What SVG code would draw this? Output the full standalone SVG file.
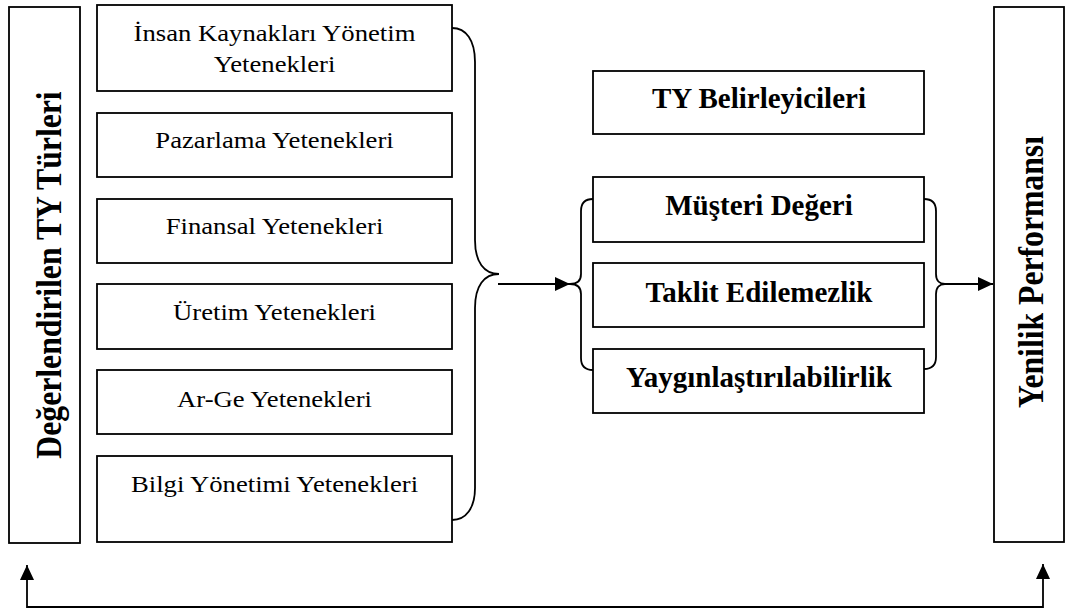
<svg xmlns="http://www.w3.org/2000/svg" width="1066" height="612" viewBox="0 0 1066 612">
<style>
rect.box{fill:#fff;stroke:#000;stroke-width:1.8}
.reg{font-family:"Liberation Serif","Times New Roman",serif;font-size:23px;fill:#000;text-anchor:middle}
.bold{font-family:"Liberation Serif","Times New Roman",serif;font-size:29px;font-weight:bold;fill:#000;text-anchor:middle}
.vert{font-family:"Liberation Serif","Times New Roman",serif;font-size:31.7px;font-weight:bold;fill:#000;text-anchor:middle}
.conn{fill:none;stroke:#000;stroke-width:1.8}
</style>
<defs>
<marker id="arr" markerUnits="userSpaceOnUse" markerWidth="16" markerHeight="16" refX="15" refY="7" orient="auto-start-reverse">
<path d="M0,0 L15,7 L0,14 z" fill="#000"/>
</marker>
</defs>
<g id="node-turleri">
<rect class="box" x="9" y="7" width="71" height="536"/>
<text class="vert" transform="translate(61,275) scale(1.16,1) rotate(-90)">Değerlendirilen TY Türleri</text>
</g>
<g id="node-ik">
<rect class="box" x="97" y="5" width="355" height="86"/>
<text class="reg" transform="translate(274.5,41) scale(1.16,1)">İnsan Kaynakları Yönetim</text>
<text class="reg" transform="translate(274.5,72) scale(1.16,1)">Yetenekleri</text>
</g>
<g id="node-pazarlama">
<rect class="box" x="97" y="113" width="355" height="64"/>
<text class="reg" transform="translate(274.5,148) scale(1.16,1)">Pazarlama Yetenekleri</text>
</g>
<g id="node-finansal">
<rect class="box" x="97" y="199" width="355" height="64"/>
<text class="reg" transform="translate(274.5,234) scale(1.16,1)">Finansal Yetenekleri</text>
</g>
<g id="node-uretim">
<rect class="box" x="97" y="284" width="355" height="65"/>
<text class="reg" transform="translate(274.5,320) scale(1.16,1)">Üretim Yetenekleri</text>
</g>
<g id="node-arge">
<rect class="box" x="97" y="370" width="355" height="64"/>
<text class="reg" transform="translate(274.5,407) scale(1.16,1)">Ar-Ge Yetenekleri</text>
</g>
<g id="node-bilgi">
<rect class="box" x="97" y="456" width="355" height="86"/>
<text class="reg" transform="translate(274.5,492) scale(1.16,1)">Bilgi Yönetimi Yetenekleri</text>
</g>
<g id="node-ty">
<rect class="box" x="593" y="71" width="331" height="63"/>
<text class="bold" x="759" y="108">TY Belirleyicileri</text>
</g>
<g id="node-musteri">
<rect class="box" x="593" y="177" width="331" height="65"/>
<text class="bold" x="759" y="215">Müşteri Değeri</text>
</g>
<g id="node-taklit">
<rect class="box" x="593" y="263" width="331" height="64"/>
<text class="bold" x="759" y="302">Taklit Edilemezlik</text>
</g>
<g id="node-yaygin">
<rect class="box" x="593" y="349" width="331" height="64"/>
<text class="bold" x="759" y="387">Yaygınlaştırılabilirlik</text>
</g>
<g id="node-yenilik">
<rect class="box" x="994" y="7" width="70" height="535"/>
<text class="vert" transform="translate(1043,272) scale(1.16,1) rotate(-90)">Yenilik Performansı</text>
</g>
<g id="connectors">
<path class="conn" d="M452,28 C466,28 475,40 475,62 L475,240 C475,262 484,274 499,274 C484,274 475,286 475,308 L475,488 C475,508 466,520 452,520"/>
<path class="conn" d="M498,284 L570,284" marker-end="url(#arr)"/>
<path class="conn" d="M593,199 C585,199 581,203 581,211 L581,274 C581,281 577,284 570,284 C577,284 581,287 581,294 L581,358 C581,366 585,370 593,370"/>
<path class="conn" d="M924,199 C932,199 936,203 936,211 L936,274 C936,281 940,284 945,284 C940,284 936,287 936,294 L936,357 C936,365 932,369 924,369"/>
<path class="conn" d="M945,284 L993,284" marker-end="url(#arr)"/>
<path class="conn" d="M27,565 L27,607 L1043,607 L1043,564" marker-start="url(#arr)" marker-end="url(#arr)"/>
</g>
</svg>
